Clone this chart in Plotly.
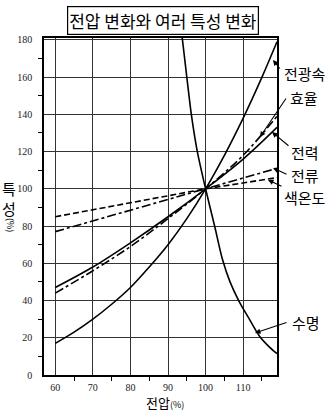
import plotly.graph_objects as go

# ---- data ----
v_flux = [60, 65, 70, 75, 80, 85, 90, 95, 100, 105, 110, 115, 119]
flux = [17, 23, 30, 38, 47, 58, 70, 84, 100, 118, 138, 160, 179]

v_eff = [60, 70, 80, 90, 100, 110, 119]
efficiency = [44, 56, 69, 84, 100, 118, 139]

v_pow = [60, 70, 80, 90, 100, 110, 119]
power = [47, 58, 71, 85, 100, 116, 133]

v_cur = [60, 100, 119]
current = [77, 100, 111]

v_ct = [60, 100, 119]
color_temp = [85, 100, 106]

v_life = [93.5, 95, 96.2, 97.8, 100, 102.4, 104.5, 106.5, 108.8, 111.5, 114.3, 117, 119]
life = [186, 160, 140, 120, 100, 80, 62, 50, 40, 30.5, 21, 15, 11.5]

x_ticks = [60, 70, 80, 90, 100, 110]
y_ticks = [0, 20, 40, 60, 80, 100, 120, 140, 160, 180]

title_text = "전압 변화와 여러 특성 변화"
labels = ["전광속", "효율", "전력", "전류", "색온도", "수명"]

FONT_KR = "Noto Sans CJK KR"
W, H = 327, 413
L, R, T, B = 44, 50, 38, 38
X0, X1 = 57, 119
Y0, Y1 = 0, 181
pw, ph = W - L - R, H - T - B


def px2x(px):
    return X0 + (px - L) / pw * (X1 - X0)


def py2y(py):
    return Y0 + (H - B - py) / ph * (Y1 - Y0)


fig = go.Figure()
lw = 1.6
fig.add_trace(go.Scatter(x=v_flux, y=flux, mode="lines", line=dict(color="black", width=lw, shape="spline")))
fig.add_trace(go.Scatter(x=v_eff, y=efficiency, mode="lines", line=dict(color="black", width=lw, dash="dashdot", shape="spline")))
fig.add_trace(go.Scatter(x=v_pow, y=power, mode="lines", line=dict(color="black", width=lw, shape="spline")))
fig.add_trace(go.Scatter(x=v_cur, y=current, mode="lines", line=dict(color="black", width=lw, dash="dashdot")))
fig.add_trace(go.Scatter(x=v_ct, y=color_temp, mode="lines", line=dict(color="black", width=lw, dash="6px,3px")))
fig.add_trace(go.Scatter(x=v_life, y=life, mode="lines", line=dict(color="black", width=lw, shape="spline", smoothing=0.8)))

# arrows: (tip px, tail px) and label centers in pixels
arrows = [
    ((273, 60), (281, 70)),
    ((260, 137), (287, 97)),
    ((272, 132), (290, 147)),
    ((273, 168), (288, 175)),
    ((268, 180), (283, 187)),
    ((255, 333), (288, 322)),
]
label_pos = [(305, 73), (304, 97), (305, 152), (305, 175), (305, 197), (306, 322)]

ann = []
for (tip, tail) in arrows:
    ann.append(dict(x=px2x(tip[0]), y=py2y(tip[1]), xref="x", yref="y", text="",
                    showarrow=True, arrowhead=2, arrowsize=1, arrowwidth=1.1, arrowcolor="black",
                    ax=tail[0] - tip[0], ay=tail[1] - tip[1], standoff=0, startstandoff=0))
for lab, (cx, cy) in zip(labels, label_pos):
    ann.append(dict(x=(cx - L) / pw, y=(H - B - cy) / ph, xref="paper", yref="paper", text=lab,
                    showarrow=False, font=dict(family=FONT_KR, size=15, color="black"),
                    xanchor="center", yanchor="middle"))

# title box
ann.append(dict(x=(163 - L) / pw, y=(H - B - 21) / ph, xref="paper", yref="paper", text=title_text,
                showarrow=False, font=dict(family=FONT_KR, size=17, color="black"),
                bordercolor="black", borderwidth=1.2, borderpad=1, bgcolor="white",
                xanchor="center", yanchor="middle"))
# y-axis title
ann.append(dict(x=(9 - L) / pw, y=(H - B - 199) / ph, xref="paper", yref="paper", text="특<br>성",
                showarrow=False, font=dict(family=FONT_KR, size=15, color="black"),
                xanchor="center", yanchor="middle"))
ann.append(dict(x=(10 - L) / pw, y=(H - B - 225) / ph, xref="paper", yref="paper", text="(%)",
                showarrow=False, textangle=90, font=dict(family=FONT_KR, size=9, color="black"),
                xanchor="center", yanchor="middle"))
# x-axis title
ann.append(dict(x=(165 - L) / pw, y=(H - B - 413) / ph, xref="paper", yref="paper",
                text="전압<span style='font-size:9px'>(%)</span>",
                showarrow=False, font=dict(family=FONT_KR, size=13, color="black"),
                xanchor="center", yanchor="bottom", borderpad=0))

fig.update_layout(
    width=W, height=H,
    margin=dict(l=L, r=R, t=T, b=B, pad=0),
    paper_bgcolor="white", plot_bgcolor="white",
    showlegend=False,
    annotations=ann,
    font=dict(family="Liberation Sans", size=10, color="#222"),
)
fig.update_xaxes(
    range=[X0, X1], tickvals=x_ticks, ticktext=[str(v) for v in x_ticks],
    showgrid=True, gridcolor="#333", gridwidth=1.3,
    showline=True, linecolor="black", linewidth=1.5, mirror=True,
    ticks="", ticklabelstandoff=2, zeroline=False,
    minor=dict(tickvals=[65, 75, 85, 95, 105, 115], ticks="outside", ticklen=4, tickcolor="black", tickwidth=1, showgrid=False),
    tickfont=dict(size=10, family="Liberation Sans Narrow"),
)
fig.update_yaxes(
    range=[Y0, Y1], tickvals=y_ticks, ticktext=[str(v) for v in y_ticks],
    showgrid=True, gridcolor="#333", gridwidth=1.3,
    showline=True, linecolor="black", linewidth=1.5, mirror=True,
    ticks="", ticklabelstandoff=8, zeroline=False,
    minor=dict(tickvals=[10, 30, 50, 70, 90, 110, 130, 150, 170], ticks="outside", ticklen=4, tickcolor="black", tickwidth=1, showgrid=False),
    tickfont=dict(size=10, family="Liberation Sans Narrow"),
)

fig.write_html("out.html")
